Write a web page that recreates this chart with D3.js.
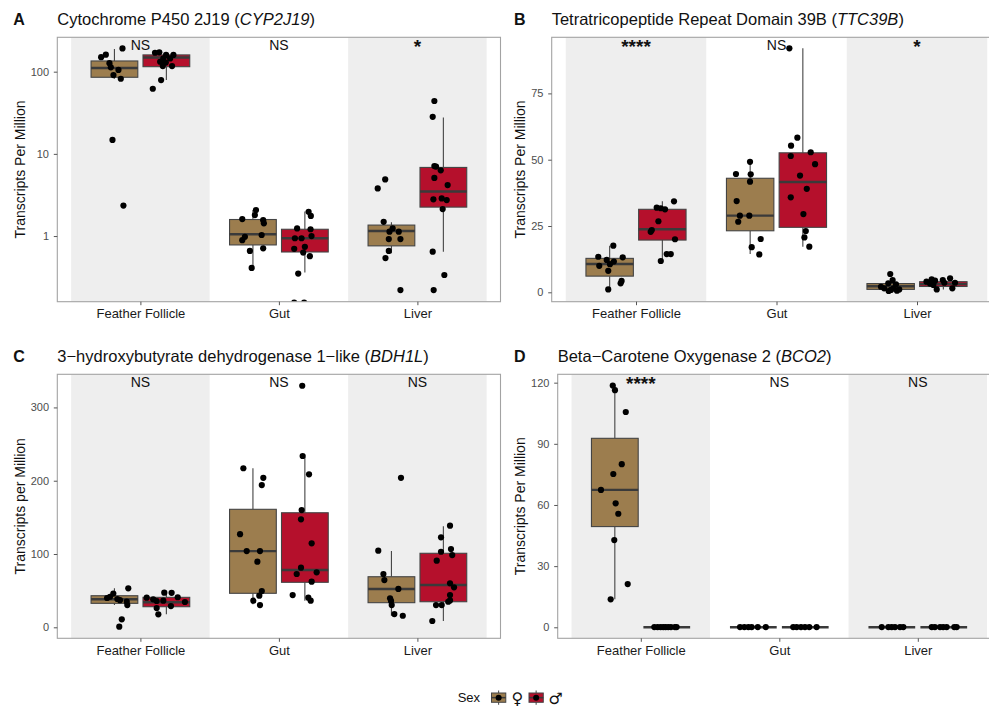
<!DOCTYPE html>
<html><head><meta charset="utf-8">
<script src="https://cdn.jsdelivr.net/npm/d3@7"></script>
<style>body{margin:0;background:#fff}svg{display:block}</style>
</head><body>
<svg id="c" width="989" height="711"></svg>
<script>
// ---------- shared categories ----------
const tissues = ["Feather Follicle", "Gut", "Liver"];
const sexLevels = ["F", "M"];
const sexColors = ["#9C7D4E", "#B5102C"];
const sexSymbols = ["♀", "♂"];

// ---------- Panel A : CYP2J19 (log scale) ----------
// box rows: [tissueIndex, sex, whiskerLow, q1, median, q3, whiskerHigh]
const cypBox = [
  [0,"F",82,85.5,111,135,189],[0,"M",79,115,149,160,172],
  [1,"F",0.42,0.78,1.05,1.59,2.07],[1,"M",0.36,0.64,0.94,1.21,1.99],
  [2,"F",0.62,0.76,1.15,1.36,1.47],[2,"M",0.645,2.25,3.49,6.84,27.7]
];
// point rows: [tissueIndex, sex, value, jitter]
const cypPts = [
  [0,"F",150,-0.096],[0,"F",161,-0.062],[0,"F",192,0.058],[0,"F",127,-0.036],[0,"F",113,-0.026],[0,"F",105,0.029],[0,"F",91,-0.007],[0,"F",82,0.046],[0,"F",14.8,-0.014],[0,"F",2.35,0.065],
  [0,"M",170,-0.082],[0,"M",172,-0.051],[0,"M",160,-0.002],[0,"M",160,0.051],[0,"M",145,-0.022],[0,"M",145,0.027],[0,"M",132,-0.045],[0,"M",129,-0.004],[0,"M",117,-0.026],[0,"M",117,0.041],[0,"M",79,-0.038],[0,"M",62,-0.098],
  [1,"F",2.07,0.022],[1,"F",1.8,0.014],[1,"F",1.61,-0.077],[1,"F",1.56,0.074],[1,"F",1.43,0.079],[1,"F",0.98,-0.058],[1,"F",0.89,-0.077],[1,"F",1.03,0.063],[1,"F",0.66,-0.022],[1,"F",0.71,0.074],[1,"F",0.41,-0.009],
  [1,"M",1.97,0.027],[1,"M",1.76,0.043],[1,"M",1.24,-0.056],[1,"M",1.21,0.041],[1,"M",0.94,-0.072],[1,"M",0.94,-0.024],[1,"M",1.0,0.048],[1,"M",0.74,0],[1,"M",0.70,-0.077],[1,"M",0.63,-0.012],[1,"M",0.57,0.036],[1,"M",0.35,-0.048],[1,"M",0.155,-0.077],[1,"M",0.155,-0.005],
  [2,"F",4.89,-0.045],[2,"F",3.8,-0.099],[2,"F",1.49,-0.056],[2,"F",1.24,0.009],[2,"F",1.13,-0.014],[2,"F",1.13,0.053],[2,"F",0.92,-0.019],[2,"F",0.92,0.065],[2,"F",0.66,-0.019],[2,"F",0.54,-0.043],[2,"F",0.22,0.065],
  [2,"M",44,-0.065],[2,"M",28.2,-0.077],[2,"M",7.1,-0.065],[2,"M",7.0,-0.053],[2,"M",6.3,-0.019],[2,"M",5.1,-0.065],[2,"M",4.17,0.031],[2,"M",2.8,-0.072],[2,"M",2.87,-0.012],[2,"M",2.74,0.024],[2,"M",2.13,-0.005],[2,"M",0.645,-0.077],[2,"M",0.336,0.007],[2,"M",0.22,-0.07]
];
const cypTicks = [1, 10, 100];
const cypSig = ["NS", "NS", "*"];

// ---------- Panel B : TTC39B ----------
const ttcBox = [
  [0,"F",1.1,6.1,10.7,12.8,17.6],[0,"M",11.8,19.7,23.8,31.3,34.3],
  [1,"F",14.4,23.2,28.9,43.0,49.2],[1,"M",17.2,24.5,41.6,52.6,92.0],
  [2,"F",0.5,1.1,2.3,3.3,4.6],[2,"M",1.1,2.2,3.1,4.0,5.3]
];
const ttcPts = [
  [0,"F",17.6,0.026],[0,"F",13.4,-0.081],[0,"F",12.2,-0.021],[0,"F",13.2,0.093],[0,"F",10.0,-0.074],[0,"F",10.6,0.002],[0,"F",8.1,-0.01],[0,"F",4.3,0.085],[0,"F",3.4,0.078],[0,"F",1.1,-0.01],[0,"F",11.6,0.03],
  [0,"M",34.3,0.083],[0,"M",31.9,-0.04],[0,"M",31.7,-0.011],[0,"M",31.3,0.019],[0,"M",26.8,-0.028],[0,"M",23.5,-0.075],[0,"M",22.8,-0.083],[0,"M",20.0,0.09],[0,"M",14.4,0.031],[0,"M",14.4,0.06],[0,"M",11.8,-0.011],
  [1,"F",49.2,-0.001],[1,"F",44.6,-0.101],[1,"F",44.5,0.004],[1,"F",41.7,-0.001],[1,"F",34.4,-0.096],[1,"F",28.9,-0.073],[1,"F",28.9,-0.006],[1,"F",26.6,-0.085],[1,"F",20.1,0.075],[1,"F",17.0,0.011],[1,"F",14.3,0.065],
  [1,"M",92.0,-0.096],[1,"M",58.3,-0.039],[1,"M",55.3,-0.084],[1,"M",51.4,-0.086],[1,"M",52.8,0.056],[1,"M",48.3,0.087],[1,"M",44.0,-0.02],[1,"M",39.0,0.028],[1,"M",35.8,-0.086],[1,"M",29.5,0.004],[1,"M",23.1,0.021],[1,"M",20.7,0.011],[1,"M",17.2,0.046],
  [2,"F",6.9,-0.003],[2,"F",4.6,0.014],[2,"F",3.4,-0.017],[2,"F",3.0,0.038],[2,"F",2.1,-0.069],[2,"F",1.5,-0.046],[2,"F",1.5,0.021],[2,"F",0.9,0.002],[2,"F",1.1,0.061],[2,"F",0.5,-0.014],[2,"F",0.6,0.045],
  [2,"M",4.9,-0.083],[2,"M",2.8,-0.071],[2,"M",1.1,-0.047],[2,"M",4.6,-0.004],[2,"M",5.3,0.048],[2,"M",3.6,0.083],[2,"M",1.5,0.064],[2,"M",4.0,-0.12],[2,"M",3.6,0.007],[2,"M",3.3,-0.095],[2,"M",4.4,-0.059]
];
const ttcTicks = [0, 25, 50, 75];
const ttcSig = ["****", "NS", "*"];

// ---------- Panel C : BDH1L ----------
const bdhBox = [
  [0,"F",30.4,32.7,38.2,43.1,53.2],[0,"M",17.7,28.1,34.1,40.9,47.2],
  [1,"F",31.4,46.4,104,161,217],[1,"M",36.3,61.4,78.2,156.3,232.7],
  [2,"F",15.8,33.6,52.3,69,104],[2,"M",8.6,34.9,57.7,101,138]
];
const bdhPts = [
  [0,"F",46,-0.008],[0,"F",41.7,-0.032],[0,"F",38.6,0.021],[0,"F",53.2,0.1],[0,"F",35,0.089],[0,"F",30.4,0.093],[0,"F",10.9,0.053],[0,"F",0.8,0.035],[0,"F",37,0.04],[0,"F",40,-0.053],
  [0,"M",47.2,-0.015],[0,"M",47,0.038],[0,"M",41,0.082],[0,"M",40.4,-0.142],[0,"M",38.2,-0.095],[0,"M",36.3,-0.022],[0,"M",35.9,-0.07],[0,"M",34.5,0.134],[0,"M",29,0.033],[0,"M",26.3,-0.07],[0,"M",17.7,-0.058],
  [1,"F",217,-0.069],[1,"F",204,0.075],[1,"F",194,0.064],[1,"F",127,-0.093],[1,"F",104,-0.045],[1,"F",104,0.051],[1,"F",89.5,0.032],[1,"F",49.5,0.064],[1,"F",43.1,0.046],[1,"F",36.3,0.003],[1,"F",30.4,0.051],
  [1,"M",329.6,-0.019],[1,"M",233.7,-0.016],[1,"M",208.7,0.03],[1,"M",160,-0.023],[1,"M",147.3,-0.028],[1,"M",114.6,0.049],[1,"M",81.3,-0.028],[1,"M",72.7,-0.059],[1,"M",75,0.085],[1,"M",62.2,0.049],[1,"M",44,-0.088],[1,"M",40.4,0.025],[1,"M",36.3,0.042],
  [2,"F",104.5,-0.095],[2,"F",204,0.069],[2,"F",72.7,-0.058],[2,"F",64.5,-0.051],[2,"F",52.3,0.05],[2,"F",39.6,-0.01],[2,"F",36,-0.003],[2,"F",30.4,0.002],[2,"F",18.1,0.021],[2,"F",15.8,0.082],
  [2,"M",138.6,0.048],[2,"M",122.8,-0.017],[2,"M",106.8,0.055],[2,"M",103.1,-0.017],[2,"M",98.6,0.064],[2,"M",90.9,-0.048],[2,"M",60,0.048],[2,"M",54.6,0.077],[2,"M",44.1,0.048],[2,"M",34.9,0.035],[2,"M",36.7,0.048],[2,"M",30.4,-0.053],[2,"M",30.4,-0.012],[2,"M",8.6,-0.08]
];
const bdhTicks = [0, 100, 200, 300];
const bdhSig = ["NS", "NS", "NS"];

// ---------- Panel D : BCO2 ----------
const bcoBox = [
  [0,"F",13.7,49.4,67.4,92.7,118.6],[0,"M",0,0,0,0,0],
  [1,"F",0,0,0,0,0],[1,"M",0,0,0,0,0],
  [2,"F",0,0,0,0,0],[2,"M",0,0,0,0,0]
];
const bcoPts = [
  [0,"F",118.6,-0.015],[0,"F",116.3,0.001],[0,"F",105.6,0.079],[0,"F",80,0.05],[0,"F",75.2,-0.011],[0,"F",67.4,-0.1],[0,"F",60.8,0.006],[0,"F",55.7,0.025],[0,"F",42.8,-0.004],[0,"F",21.2,0.093],[0,"F",13.7,-0.03],
  [0,"M",0.1,-0.09],[0,"M",0.1,-0.066],[0,"M",0.1,-0.044],[0,"M",0.1,-0.025],[0,"M",0.1,-0.008],[0,"M",0.1,0.011],[0,"M",0.1,0.03],[0,"M",0.1,0.059],[0,"M",0.1,0.071],
  [1,"F",0.1,-0.096],[1,"F",0.1,-0.065],[1,"F",0.1,-0.036],[1,"F",0.1,-0.012],[1,"F",0.1,0.032],[1,"F",0.1,0.09],
  [1,"M",0.1,-0.087],[1,"M",0.1,-0.062],[1,"M",0.1,-0.031],[1,"M",0.1,-0.002],[1,"M",0.1,0.029],[1,"M",0.1,0.082],
  [2,"F",0.1,-0.073],[2,"F",0.1,-0.025],[2,"F",0.1,-0.001],[2,"F",0.1,0.023],[2,"F",0.1,0.059],[2,"F",0.1,0.083],
  [2,"M",0.1,-0.087],[2,"M",0.1,-0.064],[2,"M",0.1,-0.027],[2,"M",0.1,-0.004],[2,"M",0.1,0.021],[2,"M",0.1,0.076],[2,"M",0.1,0.093]
];
const bcoTicks = [0, 30, 60, 90, 120];
const bcoSig = ["****", "NS", "NS"];

// ---------- layout ----------
const FONT = "'Liberation Sans', Arial, Helvetica, sans-serif";
const panels = [
  {letter:"A", title:"Cytochrome P450 2J19 (", gene:"CYP2J19", ylab:"Transcripts Per Million",
   box:cypBox, pts:cypPts, ticks:cypTicks, sig:cypSig, log:true, domain:[0.159, 262],
   x0:57.3, x1:500.5, y0:37.3, y1:301.7, lx:13.3, ylx:24.5},
  {letter:"B", title:"Tetratricopeptide Repeat Domain 39B (", gene:"TTC39B", ylab:"Transcripts Per Million",
   box:ttcBox, pts:ttcPts, ticks:ttcTicks, sig:ttcSig, log:false, domain:[-3.54, 96.15],
   x0:551.7, x1:1001.3, y0:37.3, y1:301.7, lx:514, ylx:525},
  {letter:"C", title:"3\u2212hydroxybutyrate dehydrogenase 1\u2212like (", gene:"BDH1L", ylab:"Transcripts per Million",
   box:bdhBox, pts:bdhPts, ticks:bdhTicks, sig:bdhSig, log:false, domain:[-15.0, 345.2],
   x0:57.3, x1:500.5, y0:374.3, y1:638.3, lx:13.3, ylx:24.5},
  {letter:"D", title:"Beta\u2212Carotene Oxygenase 2 (", gene:"BCO2", ylab:"Transcripts Per Million",
   box:bcoBox, pts:bcoPts, ticks:bcoTicks, sig:bcoSig, log:false, domain:[-5.4, 124.1],
   x0:557.7, x1:1000.9, y0:374.3, y1:638.3, lx:514, ylx:525}
];

const svg = d3.select("#c");
const DODGE = 0.1875, HALFW = 0.16875;

panels.forEach((p, pi) => {
  const xi = d3.scaleLinear().domain([-0.6, 2.6]).range([p.x0, p.x1]);
  const unit = xi(1) - xi(0);
  const xp = d3.scalePoint().domain(tissues).range([xi(0), xi(2)]);
  const y = (p.log ? d3.scaleLog() : d3.scaleLinear()).domain(p.domain).range([p.y1, p.y0]);
  const g = svg.append("g");
  const clipId = "clip" + pi;
  svg.append("clipPath").attr("id", clipId).append("rect")
    .attr("x", p.x0).attr("y", p.y0).attr("width", p.x1 - p.x0).attr("height", p.y1 - p.y0);
  const inner = g.append("g").attr("clip-path", `url(#${clipId})`);

  // alternating bands
  inner.selectAll("rect.band").data([0, 2]).join("rect").attr("class", "band")
    .attr("x", d => xi(d - 0.5)).attr("width", unit)
    .attr("y", p.y0).attr("height", p.y1 - p.y0).attr("fill", "#EEEEEE");

  const cx = (t, s) => xi(t + (s === "F" ? -DODGE : DODGE));
  // boxes
  p.box.forEach(b => {
    const [t, s, lo, q1, med, q3, hi] = b;
    const c = cx(t, s);
    const col = sexColors[sexLevels.indexOf(s)];
    inner.append("line").attr("x1", c).attr("x2", c).attr("y1", y(hi)).attr("y2", y(q3))
      .attr("stroke", "#444").attr("stroke-width", 1.1);
    inner.append("line").attr("x1", c).attr("x2", c).attr("y1", y(q1)).attr("y2", y(lo))
      .attr("stroke", "#444").attr("stroke-width", 1.1);
    inner.append("rect").attr("x", xi(t + (s === "F" ? -DODGE : DODGE) - HALFW))
      .attr("width", 2 * HALFW * unit).attr("y", y(q3)).attr("height", Math.max(0, y(q1) - y(q3)))
      .attr("fill", col).attr("stroke", "#444").attr("stroke-width", 1.1);
    inner.append("line").attr("x1", xi(t + (s === "F" ? -DODGE : DODGE) - HALFW))
      .attr("x2", xi(t + (s === "F" ? -DODGE : DODGE) + HALFW))
      .attr("y1", y(med)).attr("y2", y(med)).attr("stroke", "#3a3a3a").attr("stroke-width", 2.4);
  });
  // points
  inner.selectAll("circle.pt").data(p.pts).join("circle").attr("class", "pt")
    .attr("cx", d => xi(d[0] + (d[1] === "F" ? -DODGE : DODGE) + d[3]))
    .attr("cy", d => y(d[2])).attr("r", 3.1).attr("fill", "#000");

  // border
  g.append("rect").attr("x", p.x0).attr("y", p.y0).attr("width", p.x1 - p.x0).attr("height", p.y1 - p.y0)
    .attr("fill", "none").attr("stroke", "#A3A3A3").attr("stroke-width", 1.1);

  // axes
  const ya = g.append("g").attr("transform", `translate(${p.x0},0)`)
    .call(d3.axisLeft(y).tickValues(p.ticks).tickFormat(d3.format("d")).tickSize(3.5).tickPadding(4.8));
  ya.select(".domain").remove();
  ya.selectAll("line").attr("stroke", "#555");
  ya.selectAll("text").attr("fill", "#4D4D4D").style("font-family", FONT).style("font-size", "11px");

  const xa = g.append("g").attr("transform", `translate(0,${p.y1})`)
    .call(d3.axisBottom(xp).tickSize(3.5).tickPadding(4));
  xa.select(".domain").remove();
  xa.selectAll("line").attr("stroke", "#555");
  xa.selectAll("text").attr("fill", "#1a1a1a").style("font-family", FONT).style("font-size", "13px");

  // significance labels
  g.selectAll("text.sig").data(p.sig).join("text").attr("class", "sig")
    .attr("x", (d, i) => xi(i))
    .attr("y", d => d.startsWith("*") ? p.y0 + 16 : p.y0 + 13)
    .attr("text-anchor", "middle").style("font-family", FONT)
    .style("font-size", d => d.startsWith("*") ? "19px" : "14px")
    .style("font-weight", d => d.startsWith("*") ? "bold" : "normal")
    .attr("fill", "#111").text(d => d);

  // title
  const tt = g.append("text").attr("x", p.x0).attr("y", p.y0 - 12.5)
    .style("font-family", FONT).style("font-size", "16.5px").attr("fill", "#111");
  tt.append("tspan").text(p.title);
  tt.append("tspan").style("font-style", "italic").text(p.gene);
  tt.append("tspan").text(")");
  g.append("text").attr("x", p.lx).attr("y", p.y0 - 12.5)
    .style("font-family", FONT).style("font-size", "16px").style("font-weight", "bold")
    .attr("fill", "#111").text(p.letter);

  // y label
  g.append("text").attr("transform", `translate(${p.ylx},${(p.y0 + p.y1) / 2}) rotate(-90)`)
    .attr("text-anchor", "middle").style("font-family", FONT).style("font-size", "14px")
    .attr("fill", "#111").text(p.ylab);
});

// ---------- legend ----------
const lg = svg.append("g");
lg.append("text").attr("x", 457.7).attr("y", 702).style("font-family", FONT).style("font-size", "13px")
  .attr("fill", "#111").text("Sex");
const keyX = [490, 527.5], symX = [511.5, 548.5];
sexLevels.forEach((s, i) => {
  const kx = keyX[i], ky = 689, ks = 17.28;
  lg.append("line").attr("x1", kx + ks / 2).attr("x2", kx + ks / 2).attr("y1", ky + 1.5).attr("y2", ky + ks - 1.5)
    .attr("stroke", "#444").attr("stroke-width", 1);
  lg.append("rect").attr("x", kx + 1.5).attr("y", ky + 4).attr("width", ks - 3).attr("height", ks - 8)
    .attr("fill", sexColors[i]).attr("stroke", "#444").attr("stroke-width", 1);
  lg.append("line").attr("x1", kx + 1.5).attr("x2", kx + ks - 1.5).attr("y1", ky + ks / 2).attr("y2", ky + ks / 2)
    .attr("stroke", "#3a3a3a").attr("stroke-width", 1.5);
  lg.append("circle").attr("cx", kx + ks / 2).attr("cy", ky + ks / 2).attr("r", 3).attr("fill", "#000");
  lg.append("text").attr("x", symX[i]).attr("y", 703.5).style("font-family", "'DejaVu Sans', sans-serif")
    .style("font-size", "16px").attr("fill", "#111").text(sexSymbols[i]);
});
</script>
</body></html>
